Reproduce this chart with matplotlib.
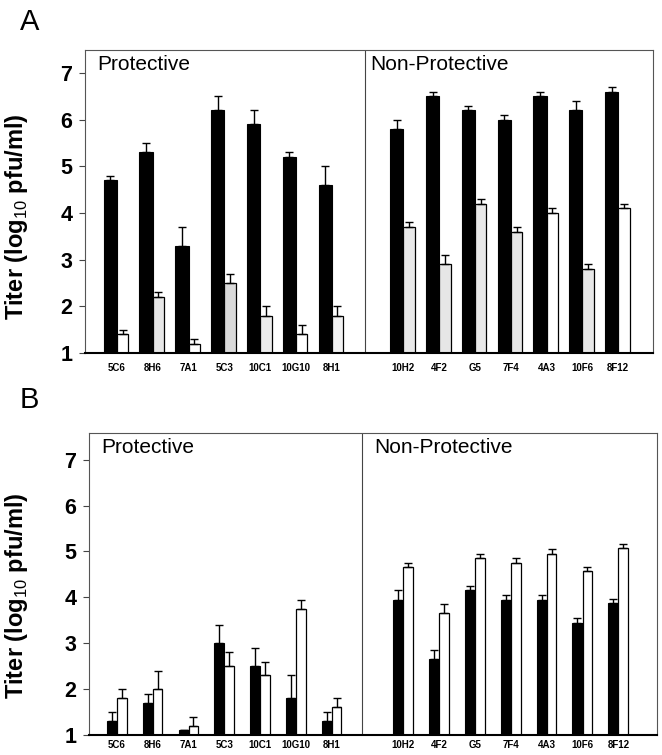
import numpy as np
import matplotlib
matplotlib.use("Agg")
import matplotlib.pyplot as plt

plt.rcParams['font.family'] = ['Liberation Sans', 'DejaVu Sans']
plt.rcParams['mathtext.fontset'] = 'custom'
plt.rcParams['mathtext.rm'] = 'Liberation Sans'
plt.rcParams['mathtext.bf'] = 'Liberation Sans:bold'

# antibody names
protective = ["5C6", "8H6", "7A1", "5C3", "10C1", "10G10", "8H1"]
non_protective = ["10H2", "4F2", "G5", "7F4", "4A3", "10F6", "8F12"]

# panel A (log10 pfu/ml), protective then non-protective
a_black = [4.7, 5.3, 3.3, 6.2, 5.9, 5.2, 4.6,
           5.8, 6.5, 6.2, 6.0, 6.5, 6.2, 6.6]
a_black_err = [0.1, 0.2, 0.4, 0.3, 0.3, 0.1, 0.4,
               0.2, 0.1, 0.1, 0.1, 0.1, 0.2, 0.1]
a_white = [1.4, 2.2, 1.2, 2.5, 1.8, 1.4, 1.8,
           3.7, 2.9, 4.2, 3.6, 4.0, 2.8, 4.1]
a_white_err = [0.1, 0.1, 0.1, 0.2, 0.2, 0.2, 0.2,
               0.1, 0.2, 0.1, 0.1, 0.1, 0.1, 0.1]

# panel B
b_black = [1.3, 1.7, 1.1, 3.0, 2.5, 1.8, 1.3,
           3.95, 2.65, 4.15, 3.95, 3.95, 3.45, 3.87]
b_black_err = [0.2, 0.2, 0.0, 0.4, 0.4, 0.5, 0.2,
               0.2, 0.2, 0.1, 0.1, 0.1, 0.1, 0.1]
b_white = [1.8, 2.0, 1.2, 2.5, 2.3, 3.75, 1.6,
           4.65, 3.65, 4.85, 4.75, 4.95, 4.57, 5.07]
b_white_err = [0.2, 0.4, 0.2, 0.3, 0.3, 0.2, 0.2,
               0.1, 0.2, 0.1, 0.1, 0.1, 0.1, 0.1]

# halftone look of the scanned open bars in panel A
a_white_fill = ['white', '#e6e6e6', 'white', '#d9d9d9', '#ececec', 'white', '#f2f2f2',
                '#e8e8e8', '#e6e6e6', '#e8e8e8', '#e6e6e6', 'white', '#e8e8e8', 'white']

labels = protective + non_protective
x = np.concatenate([np.arange(len(protective)),
                    np.arange(len(non_protective)) + len(protective) + 1])

fig = plt.figure(figsize=(6.62, 7.55), dpi=100)
axA = fig.add_axes([85 / 662, 402 / 755, 568 / 662, 303 / 755])
axB = fig.add_axes([89 / 662, 20 / 755, 568 / 662, 302 / 755])


def panel(ax, black, black_err, white, white_err, wb, ww, fills, xlim, ylim_top, divider, xpad):
    black = np.array(black)
    white = np.array(white)
    ax.bar(x, black, width=-wb, align='edge', color='black', edgecolor='black', linewidth=0.8)
    ax.bar(x, white, width=ww, align='edge', color=fills, edgecolor='black', linewidth=0.9)
    ax.errorbar(x - wb / 2, black, yerr=[np.zeros(len(black)), black_err], fmt='none',
                ecolor='black', elinewidth=1.0, capsize=2.6, capthick=1.0)
    ax.errorbar(x + ww / 2, white, yerr=[np.zeros(len(white)), white_err], fmt='none',
                ecolor='black', elinewidth=1.0, capsize=2.6, capthick=1.0)
    ax.set_xlim(*xlim)
    ax.set_ylim(1, ylim_top)
    ax.axvline(divider, color='#444444', linewidth=0.8)
    for s in ['top', 'right', 'left']:
        ax.spines[s].set_color('#555555')
        ax.spines[s].set_linewidth(0.8)
    ax.spines['bottom'].set_color('black')
    ax.spines['bottom'].set_linewidth(1.5)
    ax.set_yticks(range(1, 8))
    ax.set_yticklabels([str(v) for v in range(1, 8)], fontsize=15.5, fontweight='bold')
    ax.tick_params(axis='y', direction='out', length=4, width=0.8, pad=5, color='#444444')
    ax.set_xticks(x)
    ax.set_xticklabels(labels, fontsize=7, fontweight='bold')
    ax.tick_params(axis='x', length=0, pad=xpad)
    ax.set_ylabel(r'Titer (log$_\mathrm{10}$ pfu/ml)', fontsize=17, fontweight='bold')
    ax.text(0.021, 0.985, 'Protective', transform=ax.transAxes, fontsize=15,
            va='top', ha='left')
    ax.text(0.502, 0.985, 'Non-Protective', transform=ax.transAxes, fontsize=15,
            va='top', ha='left')


panel(axA, a_black, a_black_err, a_white, a_white_err, 0.37, 0.32, a_white_fill,
      (-0.89, 14.97), 7.49, 6.93, 7)
axA.yaxis.set_label_coords(-0.097, 0.45)

panel(axB, b_black, b_black_err, b_white, b_white_err, 0.28, 0.27, 'white',
      (-0.78, 15.08), 7.58, 6.85, 3.5)
axB.yaxis.set_label_coords(-0.104, 0.46)

fig.text(20 / 662, 1 - 22 / 755, 'A', fontsize=21, va='center', ha='left')
fig.text(20 / 662, 1 - 400 / 755, 'B', fontsize=21, va='center', ha='left')

fig.savefig('out.png', dpi=100)
